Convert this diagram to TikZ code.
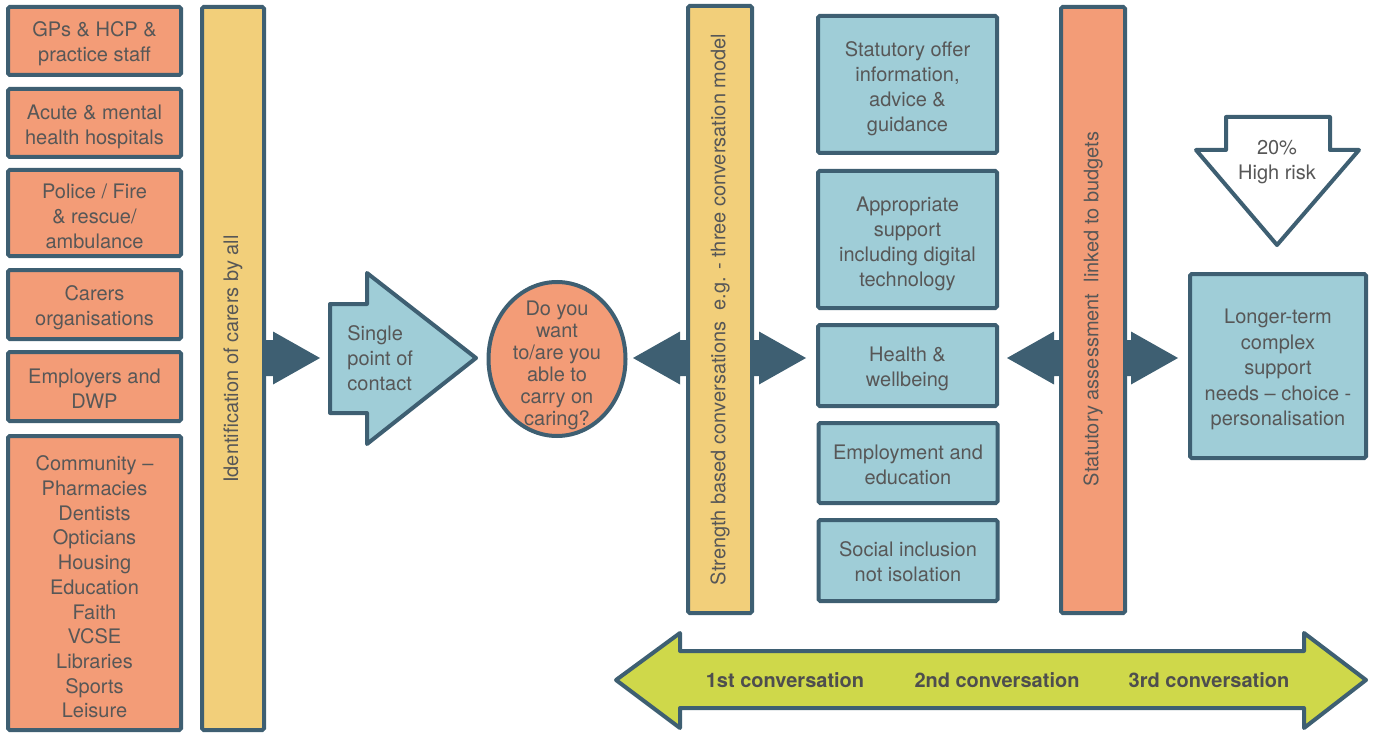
\documentclass[tikz,border=0pt]{standalone}
\usepackage{fontspec}
\setmainfont{TeX Gyre Heros}
\usetikzlibrary{shapes.geometric}
\definecolor{edge}{HTML}{3E5F72}
\definecolor{salmon}{HTML}{F39C77}
\definecolor{sand}{HTML}{F2CF7A}
\definecolor{aqua}{HTML}{9FCDD7}
\definecolor{lime}{HTML}{CFD84A}
\definecolor{ink}{HTML}{575757}
\begin{document}
\begin{tikzpicture}[x=0.5pt,y=-0.5pt,
  every node/.style={font=\fontsize{10}{12.5}\selectfont, text=ink, align=center, inner sep=0pt},
  box/.style={draw=edge, line width=2pt, rounded corners=0.8pt},
  orbox/.style={box, fill=salmon, minimum width=86.5pt},
  tealbox/.style={box, fill=aqua, minimum width=89.5pt},
  bar/.style={box, minimum width=32pt},
  shapeline/.style={draw=edge, line width=2pt, line join=round},
  darkR/.pic={\fill[edge] (0,0) -- (-47,-26.5) -- (-47,-18) -- (-62,-18) -- (-62,18) -- (-47,18) -- (-47,26.5) -- cycle;},
  darkL/.pic={\fill[edge] (0,0) -- (47,-26.5) -- (47,-18) -- (62,-18) -- (62,18) -- (47,18) -- (47,26.5) -- cycle;},
  convlabel/.style={font=\fontsize{10}{12}\selectfont\bfseries, text=ink!90!black}
]
\useasboundingbox (0,0) rectangle (1377,733);

% dark arrows (drawn first, shafts tucked under the bars)
\pic at (320,358) {darkR};
\pic at (633,358) {darkL};
\pic at (806,358) {darkR};
\pic at (1007,358) {darkL};
\pic at (1178,358) {darkR};

% left column
\node[orbox, minimum height=34pt] (b1) at (94.5,41) {};
\node (b1t) at ([yshift=-1.6pt]b1.center) {GPs \& HCP \&\\practice staff};
\node[orbox, minimum height=34pt] (b2) at (94.5,123) {};
\node (b2t) at ([yshift=-1.8pt]b2.center) {Acute \& mental\\health hospitals};
\node[orbox, minimum height=43pt] (b3) at (94.5,213) {};
\node (b3t) at ([yshift=-1.6pt]b3.center) {Police / Fire\\\& rescue/\\ambulance};
\node[orbox, minimum height=34.5pt] (b4) at (94.5,304.5) {};
\node (b4t) at ([yshift=-1.8pt]b4.center) {Carers\\organisations};
\node[orbox, minimum height=34.5pt] (b5) at (94.5,386.5) {};
\node (b5t) at ([yshift=-1.2pt]b5.center) {Employers and\\DWP};
\node[orbox, minimum height=147pt] (b6) at (94.5,583) {};
\node[font=\fontsize{10}{12.35}\selectfont] (b6t) at ([yshift=-2pt]b6.center) {Community --\\Pharmacies\\Dentists\\Opticians\\Housing\\Education\\Faith\\VCSE\\Libraries\\Sports\\Leisure};

% identification bar
\node[bar, fill=sand, minimum width=31pt, minimum height=361.5pt] (idbar) at (233,368.5) {};
\node[rotate=90] (idtext) at (233,359) {Identification of carers by all};

% single point of contact
\draw[shapeline, fill=aqua] (330,304) -- (367,304) -- (367,273) -- (476,358) -- (367,444) -- (367,413) -- (330,413) -- cycle;
\node[anchor=west, align=left] (spc) at (347,358) {Single\\point of\\contact};

% question ellipse
\node[ellipse, draw=edge, fill=salmon, line width=2pt, minimum width=68.5pt, minimum height=77pt] (q) at (557,359) {};
\node[font=\fontsize{10}{11}\selectfont] (qtext) at ([yshift=-3pt]q.center) {Do you\\want\\to/are you\\able to\\carry on\\caring?};

% strength bar
\node[bar, fill=sand, minimum height=303.5pt] (sbar) at (720,309.5) {};
\node[rotate=90] (stext) at (720,309.5) {Strength based conversations\ \ e.g. - three conversation model};

% teal column
\node[tealbox, minimum height=68.5pt] (ta) at (907.5,84.5) {};
\node (tat) at ([yshift=-2.3pt]ta.center) {Statutory offer\\information,\\advice \&\\guidance};
\node[tealbox, minimum height=68.5pt] (tb) at (907.5,239.5) {};
\node (tbt) at ([yshift=-2.3pt]tb.center) {Appropriate\\support\\including digital\\technology};
\node[tealbox, minimum height=40.5pt] (tc) at (907.5,365.5) {};
\node (tct) at ([yshift=-1.5pt]tc.center) {Health \&\\wellbeing};
\node[tealbox, minimum height=40pt] (td) at (908,463) {};
\node (tdt) at ([yshift=-0.8pt]td.center) {Employment and\\education};
\node[tealbox, minimum height=40.5pt] (te) at (908,560.5) {};
\node (tet) at ([yshift=-0.6pt]te.center) {Social inclusion\\not isolation};

% statutory bar
\node[bar, fill=salmon, minimum height=303pt] (abar) at (1093,310) {};
\node[rotate=90] (atext) at (1093,309) {Statutory assessment\ \ linked to budgets};

% 20% high risk arrow
\draw[shapeline, fill=white] (1226,117) -- (1330,117) -- (1330,150) -- (1359,150) -- (1277,245) -- (1196,150) -- (1226,150) -- cycle;
\node (risk) at (1277,162) {20\%\\High risk};

% longer-term box
\node[box, fill=aqua, minimum width=88pt, minimum height=92pt] (lt) at (1278,366) {};
\node[font=\fontsize{10}{12.75}\selectfont] (ltt) at ([yshift=-1.8pt]lt.center) {Longer-term\\complex\\support\\needs -- choice -\\personalisation};

% conversations double arrow
\draw[shapeline, fill=lime] (616,680) -- (680,633) -- (680,651) -- (1304,651) -- (1304,633) -- (1366,680) -- (1304,728) -- (1304,708) -- (680,708) -- (680,728) -- cycle;
\node[convlabel] (c1) at (785,680) {1st conversation};
\node[convlabel] (c2) at (997,680) {2nd conversation};
\node[convlabel] (c3) at (1209,680) {3rd conversation};
\end{tikzpicture}
\end{document}
